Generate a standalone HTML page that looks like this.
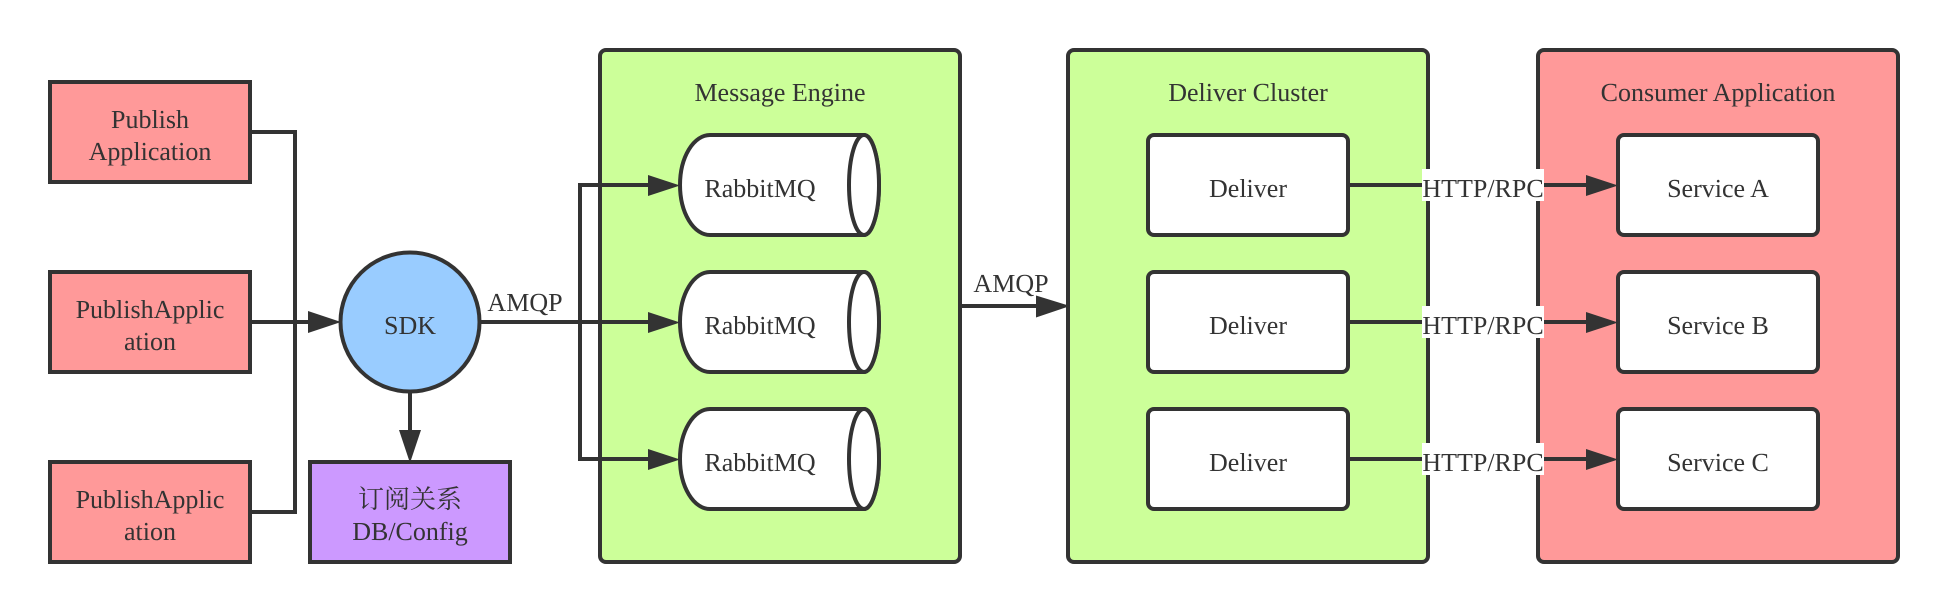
<!DOCTYPE html>
<html>
<head>
<meta charset="utf-8">
<style>
html,body{margin:0;padding:0;background:#fff;width:1948px;height:612px;overflow:hidden}
svg{display:block}
text{font-family:"Liberation Serif","Noto Serif CJK SC",serif;font-size:26px;fill:#333;text-anchor:middle;text-rendering:geometricPrecision}
.n{stroke:#333;stroke-width:4}
.l{stroke:#333;stroke-width:4;fill:none}
.a{fill:#333;stroke:none}
</style>
</head>
<body>
<svg width="1948" height="612" viewBox="0 0 1948 612" xmlns="http://www.w3.org/2000/svg">
<!-- groups -->
<rect class="n" x="600" y="50" width="360" height="512" rx="6" fill="#ccff99"/>
<rect class="n" x="1068" y="50" width="360" height="512" rx="6" fill="#ccff99"/>
<rect class="n" x="1538" y="50" width="360" height="512" rx="6" fill="#ff9999"/>
<text x="780" y="101">Message Engine</text>
<text x="1248" y="101">Deliver Cluster</text>
<text x="1718" y="101">Consumer Application</text>

<!-- edges -->
<path class="l" d="M252 132H295V512H252"/>
<path class="l" d="M252 322H310"/>
<path class="l" d="M480 322H650"/>
<path class="l" d="M580 322V185H650"/>
<path class="l" d="M580 322V459H650"/>
<path class="l" d="M410 392V432"/>
<path class="l" d="M962 306H1038"/>
<path class="l" d="M1350 185H1588"/>
<path class="l" d="M1350 322H1588"/>
<path class="l" d="M1350 459H1588"/>

<!-- left nodes -->
<rect class="n" x="50" y="82" width="200" height="100" fill="#ff9999"/>
<rect class="n" x="50" y="272" width="200" height="100" fill="#ff9999"/>
<rect class="n" x="50" y="462" width="200" height="100" fill="#ff9999"/>
<text x="150" y="128">Publish</text>
<text x="150" y="160">Application</text>
<text x="150" y="318">PublishApplic</text>
<text x="150" y="350">ation</text>
<text x="150" y="508">PublishApplic</text>
<text x="150" y="540">ation</text>

<circle class="n" cx="410" cy="322" r="69.5" fill="#99ccff"/>
<text x="410" y="334">SDK</text>
<text x="525" y="311">AMQP</text>

<rect class="n" x="310" y="462" width="200" height="100" fill="#cc99ff"/>
<text x="410" y="508">订阅关系</text>
<text x="410" y="540">DB/Config</text>

<!-- cylinders -->
<path class="n" fill="#fff" d="M710 135H864A15 50 0 0 1 864 235H710A30 50 0 0 1 710 135Z"/>
<ellipse class="n" cx="864" cy="185" rx="15" ry="50" fill="#fff"/>
<text x="760" y="197">RabbitMQ</text>
<path class="n" fill="#fff" d="M710 272H864A15 50 0 0 1 864 372H710A30 50 0 0 1 710 272Z"/>
<ellipse class="n" cx="864" cy="322" rx="15" ry="50" fill="#fff"/>
<text x="760" y="334">RabbitMQ</text>
<path class="n" fill="#fff" d="M710 409H864A15 50 0 0 1 864 509H710A30 50 0 0 1 710 409Z"/>
<ellipse class="n" cx="864" cy="459" rx="15" ry="50" fill="#fff"/>
<text x="760" y="471">RabbitMQ</text>

<text x="1011" y="292">AMQP</text>

<!-- deliver -->
<rect class="n" x="1148" y="135" width="200" height="100" rx="6" fill="#fff"/>
<rect class="n" x="1148" y="272" width="200" height="100" rx="6" fill="#fff"/>
<rect class="n" x="1148" y="409" width="200" height="100" rx="6" fill="#fff"/>
<text x="1248" y="197">Deliver</text>
<text x="1248" y="334">Deliver</text>
<text x="1248" y="471">Deliver</text>

<!-- services -->
<rect class="n" x="1618" y="135" width="200" height="100" rx="6" fill="#fff"/>
<rect class="n" x="1618" y="272" width="200" height="100" rx="6" fill="#fff"/>
<rect class="n" x="1618" y="409" width="200" height="100" rx="6" fill="#fff"/>
<text x="1718" y="197">Service A</text>
<text x="1718" y="334">Service B</text>
<text x="1718" y="471">Service C</text>

<!-- edge labels -->
<rect x="1422" y="169" width="122" height="32" fill="#fff"/>
<rect x="1422" y="306" width="122" height="32" fill="#fff"/>
<rect x="1422" y="443" width="122" height="32" fill="#fff"/>
<text x="1483" y="197">HTTP/RPC</text>
<text x="1483" y="334">HTTP/RPC</text>
<text x="1483" y="471">HTTP/RPC</text>

<!-- arrowheads -->
<polygon class="a" points="308,311 341,322 308,333"/>
<polygon class="a" points="399,430 421,430 410,463"/>
<polygon class="a" points="648,175 680,185.5 648,196"/>
<polygon class="a" points="648,312 680,322.5 648,333"/>
<polygon class="a" points="648,449 680,459.5 648,470"/>
<polygon class="a" points="1036,295.5 1070,306 1036,317.5"/>
<polygon class="a" points="1586,175 1618,185.5 1586,196"/>
<polygon class="a" points="1586,312 1618,322.5 1586,333"/>
<polygon class="a" points="1586,449 1618,459.5 1586,470"/>
</svg>
</body>
</html>
